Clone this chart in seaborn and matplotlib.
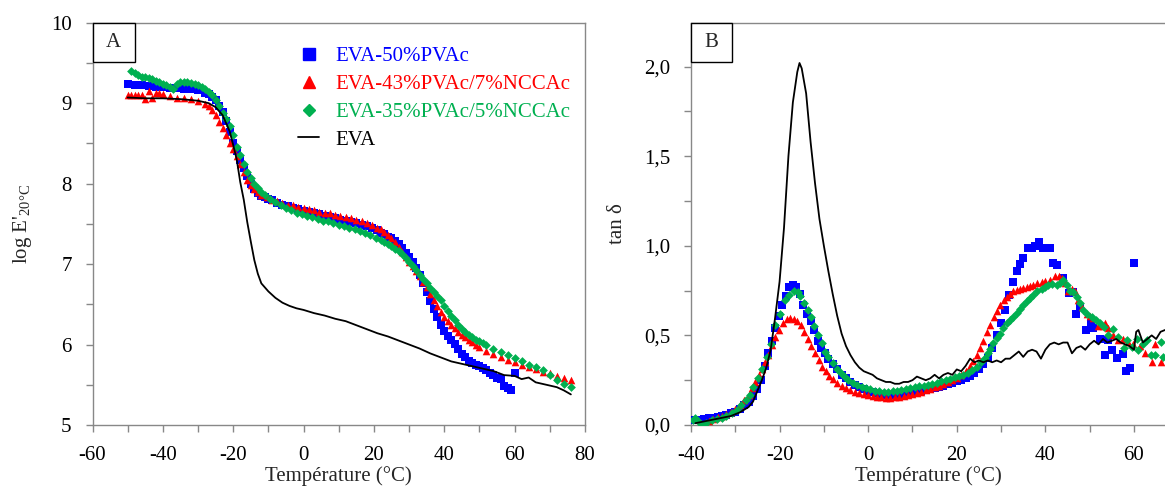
import matplotlib
matplotlib.use('Agg')
import matplotlib.pyplot as plt
import seaborn as sns
import pandas as pd
from matplotlib.lines import Line2D
from matplotlib.patches import Rectangle
from matplotlib.ticker import MultipleLocator, FuncFormatter

# ---- panel A : log E' vs temperature ----
tA_pvac = [-50, -48, -46, -44, -42, -40, -38, -36, -34, -32, -30, -28, -27, -26, -25, -24, -23, -22, -21, -20,
           -19, -18, -17, -16, -15, -14, -13, -12, -11, -10, -9, -7.5, -6, -4.5, -3, -1.5, 0, 1.5, 3, 4.5,
           6, 7.5, 9, 10.5, 12, 13.5, 15, 16.5, 18, 19.5, 21, 22, 23, 24, 25, 26, 27, 28, 29, 30,
           31, 32, 33, 34, 35, 36, 37, 38, 39, 40, 41, 42, 43, 44, 45, 46, 47, 48, 49, 50,
           51, 52, 53, 54, 55, 56, 57, 58, 59, 60]
eA_pvac = [9.24, 9.23, 9.22, 9.21, 9.20, 9.20, 9.19, 9.19, 9.18, 9.17, 9.16, 9.13, 9.11, 9.08, 9.04, 8.97, 8.89, 8.78, 8.64, 8.51,
           8.40, 8.29, 8.19, 8.09, 8.00, 7.93, 7.88, 7.85, 7.83, 7.81, 7.79, 7.76, 7.74, 7.72, 7.70, 7.68, 7.66, 7.65, 7.63, 7.62,
           7.60, 7.58, 7.57, 7.55, 7.54, 7.52, 7.51, 7.49, 7.47, 7.45, 7.42, 7.39, 7.37, 7.34, 7.32, 7.29, 7.25, 7.20, 7.14, 7.09,
           7.03, 6.95, 6.86, 6.76, 6.65, 6.54, 6.44, 6.34, 6.24, 6.17, 6.10, 6.05, 6.01, 5.94, 5.88, 5.84, 5.80, 5.77, 5.75, 5.73,
           5.71, 5.68, 5.65, 5.62, 5.59, 5.57, 5.48, 5.46, 5.44, 5.64]

tA_ncc7 = [-50, -49, -48, -47, -46, -45, -44, -43, -42, -41, -40, -38, -36, -34, -32, -30, -28, -27, -26, -25,
           -24, -23, -22, -21, -20, -19, -18, -17, -16, -15, -14, -13, -12, -10.5, -9, -7.5, -6, -4.5, -3, -1.5,
           0, 1.5, 3, 4.5, 6, 7.5, 9, 10.5, 12, 13.5, 15, 16.5, 18, 19.5, 21, 22, 23, 24, 25, 26,
           27, 28, 29, 30, 31, 32, 33, 34, 35, 36, 37, 38, 39, 40, 41, 42, 43, 44, 45, 46,
           47, 48, 49, 50, 52, 54, 56, 58, 60, 62, 64, 66, 68, 70, 72, 74, 76]
eA_ncc7 = [9.10, 9.10, 9.10, 9.10, 9.10, 9.05, 9.15, 9.07, 9.12, 9.13, 9.11, 9.09, 9.07, 9.06, 9.05, 9.03, 8.99, 8.96, 8.92, 8.85,
           8.77, 8.69, 8.60, 8.51, 8.43, 8.34, 8.24, 8.14, 8.05, 7.98, 7.93, 7.89, 7.86, 7.83, 7.80, 7.78, 7.76, 7.74, 7.73, 7.71,
           7.70, 7.68, 7.67, 7.65, 7.64, 7.63, 7.61, 7.60, 7.58, 7.57, 7.55, 7.53, 7.51, 7.48, 7.45, 7.43, 7.40, 7.36, 7.32, 7.27,
           7.21, 7.15, 7.09, 7.03, 6.97, 6.91, 6.85, 6.78, 6.71, 6.63, 6.55, 6.48, 6.41, 6.34, 6.29, 6.24, 6.20, 6.16, 6.12, 6.09,
           6.06, 6.03, 6.00, 5.97, 5.92, 5.88, 5.85, 5.81, 5.78, 5.75, 5.72, 5.69, 5.66, 5.64, 5.61, 5.59, 5.56]

tA_ncc5 = [-49, -48, -47, -46, -45, -44, -43, -42, -41, -40, -39, -38, -37, -36, -35, -34, -33, -32, -31, -30,
           -29, -28, -27, -26, -25, -24, -23, -22, -21, -20, -19, -18, -17, -16, -15, -14, -13, -12, -11, -9.5,
           -8, -6.5, -5, -3.5, -2, -0.5, 1, 2.5, 4, 5.5, 7, 8.5, 10, 11.5, 13, 14.5, 16, 17.5, 19, 20.5,
           22, 23, 24, 25, 26, 27, 28, 29, 30, 31, 32, 33, 34, 35, 36, 37, 38, 39, 40, 41,
           42, 43, 44, 45, 46, 47, 48, 49, 50, 51, 52, 54, 56, 58, 60, 62, 64, 66, 68, 70,
           72, 74, 76]
eA_ncc5 = [9.40, 9.37, 9.35, 9.33, 9.32, 9.31, 9.30, 9.28, 9.26, 9.24, 9.22, 9.20, 9.18, 9.24, 9.26, 9.26, 9.26, 9.25, 9.24, 9.23,
           9.20, 9.17, 9.14, 9.10, 9.04, 8.97, 8.88, 8.80, 8.71, 8.60, 8.46, 8.35, 8.24, 8.15, 8.07, 8.00, 7.94, 7.90, 7.86, 7.81,
           7.77, 7.73, 7.70, 7.67, 7.64, 7.62, 7.60, 7.58, 7.56, 7.54, 7.53, 7.51, 7.49, 7.47, 7.45, 7.43, 7.41, 7.39, 7.36, 7.33,
           7.30, 7.27, 7.25, 7.22, 7.19, 7.16, 7.12, 7.07, 7.02, 6.97, 6.92, 6.87, 6.81, 6.76, 6.70, 6.65, 6.60, 6.55, 6.48, 6.42,
           6.36, 6.30, 6.24, 6.19, 6.15, 6.12, 6.09, 6.06, 6.04, 6.02, 6.00, 5.95, 5.91, 5.87, 5.83, 5.79, 5.75, 5.72, 5.68, 5.62,
           5.56, 5.51, 5.47]

tA_eva = [-50, -45, -40, -35, -30, -27, -25, -23, -21, -20, -19, -18, -17, -16, -15, -14, -13, -12, -10, -8,
          -6, -4, -2, 0, 3, 6, 9, 12, 15, 18, 21, 24, 27, 30, 33, 36, 39, 42, 45, 48,
          51, 54, 57, 60, 62, 64, 66, 68, 70, 72, 74, 76]
eA_eva = [9.07, 9.06, 9.06, 9.05, 9.03, 9.00, 8.95, 8.85, 8.65, 8.48, 8.30, 8.02, 7.80, 7.52, 7.28, 7.05, 6.88, 6.76, 6.66, 6.58,
          6.52, 6.48, 6.45, 6.43, 6.39, 6.36, 6.32, 6.29, 6.24, 6.19, 6.14, 6.10, 6.05, 6.00, 5.95, 5.89, 5.84, 5.79, 5.76, 5.73,
          5.70, 5.67, 5.62, 5.61, 5.57, 5.59, 5.53, 5.51, 5.49, 5.47, 5.43, 5.38]

# ---- panel B : tan delta vs temperature ----
tB_pvac = [-40, -39, -38, -37, -36, -35, -34, -33, -32, -31, -30, -29, -28, -27, -26, -25, -24.2, -23.4, -22.6, -21.8,
           -21, -20.2, -19.4, -18.6, -17.8, -17, -16.2, -15.4, -14.6, -13.8, -13, -12.2, -11.4, -10.6, -9.8, -9, -8, -7, -6, -5,
           -4, -3, -2, -1, 0, 1, 2, 3, 4, 5, 6, 7, 8, 9, 10, 11, 12, 13, 14, 15,
           16, 17, 18, 19, 20, 21, 22, 23, 24, 25, 26, 27, 28, 29, 30, 30.9, 31.8, 32.6, 33.5, 34.3,
           35, 36, 36.9, 37.7, 38.6, 39.4, 40.3, 41, 41.8, 42.6, 44, 45.3, 46.2, 47, 47.8, 49.1, 50.3, 50.8, 52.4, 53.5,
           54.2, 55, 56.2, 57.5, 58.1, 59.2, 60]
dB_pvac = [0.03, 0.03, 0.03, 0.035, 0.04, 0.04, 0.045, 0.05, 0.055, 0.065, 0.075, 0.09, 0.11, 0.13, 0.16, 0.20, 0.25, 0.33, 0.40, 0.47,
           0.54, 0.61, 0.67, 0.72, 0.77, 0.78, 0.77, 0.73, 0.67, 0.62, 0.58, 0.53, 0.47, 0.43, 0.40, 0.37, 0.34, 0.31, 0.28, 0.26,
           0.24, 0.225, 0.21, 0.20, 0.19, 0.185, 0.178, 0.172, 0.168, 0.166, 0.166, 0.168, 0.17, 0.173, 0.177, 0.182, 0.188, 0.195, 0.20, 0.207,
           0.213, 0.22, 0.228, 0.235, 0.243, 0.252, 0.262, 0.273, 0.29, 0.31, 0.34, 0.375, 0.43, 0.50, 0.57, 0.64, 0.725, 0.80, 0.86, 0.90,
           0.93, 0.99, 0.985, 1.0, 1.02, 0.985, 0.99, 0.985, 0.905, 0.89, 0.82, 0.735, 0.74, 0.62, 0.66, 0.53, 0.57, 0.54, 0.48, 0.39,
           0.475, 0.42, 0.376, 0.396, 0.30, 0.32, 0.905]

tB_ncc7 = [-36.5, -36, -35, -34, -33, -32, -31, -30, -29, -28, -27, -26.3, -25.5, -24.7, -24, -23.3, -22.6, -21.8, -21, -20.1,
           -19.2, -18.4, -17.6, -16.8, -16, -15.2, -14.4, -13.6, -12.8, -12, -11.2, -10.4, -9.6, -8.8, -8, -7, -6, -5, -4, -3,
           -2, -1, 0, 1, 2, 3, 4, 5, 6, 7, 8, 9, 10, 11, 12, 13, 14, 15, 16, 17,
           18, 19, 20, 21, 22, 23, 23.7, 24.5, 25.2, 26, 26.8, 27.5, 28.3, 29, 29.8, 30.6, 31.3, 32, 32.8, 33.5,
           34.3, 35, 35.8, 36.5, 37.3, 38.2, 39.2, 40, 41, 42.2, 43, 43.7, 44.5, 45.2, 46, 46.7, 47.4, 48.3, 49.3, 50.1,
           50.8, 51.9, 53, 53.5, 54.2, 55.3, 56.4, 57.6, 58.7, 59.8, 61.4, 62.5, 64, 64.7, 66.2]
dB_ncc7 = [0.0, 0.02, 0.035, 0.045, 0.05, 0.06, 0.07, 0.09, 0.11, 0.14, 0.17, 0.205, 0.24, 0.28, 0.31, 0.35, 0.39, 0.445, 0.49, 0.53,
           0.57, 0.59, 0.595, 0.59, 0.58, 0.56, 0.52, 0.48, 0.44, 0.40, 0.36, 0.325, 0.30, 0.275, 0.255, 0.235, 0.22, 0.205, 0.195, 0.185,
           0.178, 0.172, 0.167, 0.162, 0.158, 0.155, 0.152, 0.152, 0.154, 0.157, 0.161, 0.166, 0.172, 0.179, 0.186, 0.194, 0.202, 0.21, 0.22, 0.23,
           0.24, 0.25, 0.26, 0.28, 0.30, 0.33, 0.355, 0.39, 0.43, 0.47, 0.52, 0.56, 0.60, 0.635, 0.67, 0.70, 0.716, 0.73, 0.745, 0.755,
           0.76, 0.765, 0.77, 0.775, 0.78, 0.79, 0.80, 0.805, 0.81, 0.83, 0.83, 0.82, 0.79, 0.75, 0.76, 0.75, 0.70, 0.66, 0.62, 0.61,
           0.595, 0.55, 0.55, 0.57, 0.54, 0.50, 0.475, 0.48, 0.465, 0.45, 0.44, 0.40, 0.35, 0.45, 0.35]

tB_ncc5 = [-39.5, -39, -38.3, -37.6, -36.5, -35.3, -34.2, -33.1, -32, -30.8, -29.7, -28.6, -27.5, -26.6, -25.9, -24.8, -23.9, -22.9, -21.9, -21,
           -20, -18.8, -17.8, -16.8, -15.9, -15.4, -14.4, -13.5, -12.8, -12.2, -11.4, -10.5, -9.7, -9, -8, -7.1, -6.2, -5.3, -4.5, -3.5,
           -2.5, -1.5, -0.5, 0.5, 1.5, 2.5, 3.5, 4.5, 5.5, 6.5, 7.5, 8.5, 9.5, 10.5, 11.5, 12.5, 13.5, 14.5, 15.5, 16.5,
           17.5, 18.5, 19.5, 20.5, 21.5, 22.5, 23.5, 24.5, 25.5, 26.3, 27, 27.6, 28.2, 29, 29.8, 30.5, 31.3, 32, 32.8, 33.5,
           34.3, 35, 35.8, 36.5, 37.3, 38.2, 39.2, 40, 40.7, 41.6, 42.6, 43.3, 44, 44.8, 45.6, 46.3, 47.1, 47.8, 48.6, 49.5,
           50.5, 51.4, 52.3, 53.2, 54.2, 55.3, 56.5, 57.7, 58.4, 59.6, 60.6, 61, 62, 63, 63.8, 64.7, 66.2, 66.6]
dB_ncc5 = [0.03, 0.037, 0.02, 0.0, 0.01, 0.028, 0.033, 0.037, 0.05, 0.065, 0.085, 0.11, 0.14, 0.17, 0.21, 0.26, 0.31, 0.38, 0.45, 0.56,
           0.62, 0.70, 0.725, 0.75, 0.74, 0.72, 0.68, 0.64, 0.60, 0.55, 0.50, 0.455, 0.41, 0.38, 0.345, 0.315, 0.29, 0.27, 0.25, 0.235,
           0.222, 0.214, 0.205, 0.198, 0.192, 0.187, 0.186, 0.186, 0.188, 0.192, 0.196, 0.20, 0.205, 0.21, 0.215, 0.22, 0.225, 0.23, 0.237, 0.243,
           0.25, 0.257, 0.265, 0.272, 0.28, 0.29, 0.305, 0.325, 0.35, 0.375, 0.40, 0.425, 0.455, 0.485, 0.51, 0.54, 0.567, 0.585, 0.604, 0.625,
           0.65, 0.67, 0.69, 0.71, 0.725, 0.745, 0.76, 0.77, 0.78, 0.785, 0.78, 0.79, 0.81, 0.78, 0.75, 0.74, 0.716, 0.68, 0.64, 0.62,
           0.60, 0.585, 0.567, 0.545, 0.50, 0.535, 0.49, 0.43, 0.475, 0.437, 0.48, 0.42, 0.45, 0.474, 0.39, 0.39, 0.465, 0.38]

tB_eva = [-39, -37, -35, -33, -31, -29, -27, -26, -25, -24, -23, -22, -21, -20, -19, -18, -17, -16, -15.5, -15,
          -14, -13, -12, -11, -10, -9, -8, -7, -6, -5, -4, -3, -2, -1, 0, 1, 2, 3, 4, 5,
          6, 7, 8, 9, 10, 11, 12, 13, 14, 15, 16, 17, 18, 19, 20, 21, 22, 23, 24, 25,
          26, 27, 28, 29, 30, 31, 32, 33, 34, 35, 36, 37, 38, 39, 40, 41, 42, 43, 44, 45,
          46, 47, 48, 49, 50, 51, 52, 53, 54, 55, 56, 57, 58, 59, 60, 60.5, 61, 62, 63, 64,
          65, 66, 67]
dB_eva = [0.01, 0.02, 0.03, 0.04, 0.05, 0.07, 0.10, 0.13, 0.19, 0.25, 0.32, 0.42, 0.60, 0.80, 1.10, 1.50, 1.80, 1.97, 2.02, 1.99,
          1.85, 1.58, 1.35, 1.15, 1.00, 0.86, 0.73, 0.61, 0.51, 0.44, 0.39, 0.35, 0.32, 0.30, 0.29, 0.28, 0.26, 0.25, 0.24, 0.24,
          0.23, 0.23, 0.24, 0.24, 0.25, 0.27, 0.26, 0.25, 0.26, 0.28, 0.26, 0.28, 0.29, 0.28, 0.31, 0.30, 0.33, 0.37, 0.35, 0.36,
          0.35, 0.36, 0.35, 0.36, 0.35, 0.37, 0.37, 0.39, 0.41, 0.38, 0.41, 0.42, 0.41, 0.37, 0.42, 0.45, 0.46, 0.45, 0.46, 0.46,
          0.40, 0.43, 0.44, 0.42, 0.45, 0.47, 0.45, 0.48, 0.46, 0.47, 0.48, 0.46, 0.45, 0.44, 0.42, 0.52, 0.53, 0.46, 0.48, 0.50,
          0.48, 0.52, 0.53]

labels = ['EVA-50%PVAc', 'EVA-43%PVAc/7%NCCAc', 'EVA-35%PVAc/5%NCCAc', 'EVA']
colors = ['#0000FF', '#FF0000', '#00B050', '#000000']
markers = ['s', '^', 'D']
sizes = [26, 30, 20]

sns.set_theme(style='ticks')
plt.rcParams['font.family'] = ['Liberation Serif', 'DejaVu Serif']
plt.rcParams['mathtext.fontset'] = 'custom'
plt.rcParams['mathtext.rm'] = 'Liberation Serif'
plt.rcParams['mathtext.it'] = 'Liberation Serif:italic'
plt.rcParams['font.size'] = 15
plt.rcParams['axes.unicode_minus'] = False

spine_col = '#888888'

fig = plt.figure(figsize=(11.65, 4.9), dpi=100)
axA = fig.add_axes([0.0794, 0.1327, 0.4227, 0.821])
axB = fig.add_axes([0.5931, 0.1327, 0.4069, 0.821])

panelA = [(tA_pvac, eA_pvac), (tA_ncc7, eA_ncc7), (tA_ncc5, eA_ncc5)]
panelB = [(tB_pvac, dB_pvac), (tB_ncc7, dB_ncc7), (tB_ncc5, dB_ncc5)]

for ax, series, eva in [(axA, panelA, (tA_eva, eA_eva)), (axB, panelB, (tB_eva, dB_eva))]:
    for (t, v), c, m, s in zip(series, colors, markers, sizes):
        df = pd.DataFrame({'T': t, 'v': v})
        sns.scatterplot(data=df, x='T', y='v', ax=ax, color=c, marker=m, s=s,
                        linewidth=0, legend=False, zorder=3)
    df = pd.DataFrame({'T': eva[0], 'v': eva[1]})
    sns.lineplot(data=df, x='T', y='v', ax=ax, color='black', linewidth=1.3,
                 sort=False, legend=False, zorder=4)

# axes A
axA.set_xlim(-60, 80)
axA.set_ylim(5, 10)
axA.xaxis.set_major_locator(MultipleLocator(20))
axA.xaxis.set_minor_locator(MultipleLocator(10))
axA.yaxis.set_major_locator(MultipleLocator(1))
axA.yaxis.set_minor_locator(MultipleLocator(0.5))
axA.set_xlabel('Température (°C)', fontsize=15, labelpad=1)
axA.set_ylabel(r"log E'$_{\mathrm{20°C}}$", fontsize=15, labelpad=12)

# axes B
axB.set_xlim(-40, 67)
axB.set_ylim(0, 2.245)
axB.xaxis.set_major_locator(MultipleLocator(20))
axB.xaxis.set_minor_locator(MultipleLocator(10))
axB.yaxis.set_major_locator(MultipleLocator(0.5))
axB.yaxis.set_minor_locator(MultipleLocator(0.25))
axB.yaxis.set_major_formatter(FuncFormatter(lambda v, p: f'{v:.1f}'.replace('.', ',')))
axB.set_xlabel('Température (°C)', fontsize=15, labelpad=1)
axB.set_ylabel('tan δ', fontsize=15, labelpad=12)
axB.spines['right'].set_visible(False)

for ax in (axA, axB):
    for sp in ax.spines.values():
        sp.set_color(spine_col)
        sp.set_linewidth(1.0)
    ax.tick_params(which='both', direction='out', length=5, width=1,
                   color=spine_col, labelcolor='black', labelsize=15)
    ax.tick_params(axis='x', which='major', pad=10)
    ax.tick_params(axis='y', which='major', pad=10)

# panel letters
for ax, letter, w in [(axA, 'A', 0.0854), (axB, 'B', 0.0865)]:
    ax.add_patch(Rectangle((0, 1 - 0.097), w, 0.097, transform=ax.transAxes,
                           facecolor='white', edgecolor='black', linewidth=1,
                           clip_on=False, zorder=6))
    ax.text(w / 2, 1 - 0.097 / 2, letter, transform=ax.transAxes, ha='center',
            va='center', fontsize=15, zorder=7)

handles = [Line2D([], [], linestyle='none', marker=m, color=c, markersize=ms)
           for m, c, ms in zip(markers, colors[:3], [8, 8, 6.5])]
handles.append(Line2D([], [], color='black', linewidth=1.3))
axA.legend(handles, labels, loc='upper left', bbox_to_anchor=(0.397, 0.967),
           frameon=False, borderpad=0, handlelength=1.0, handletextpad=0.75,
           labelspacing=0.4, fontsize=15, labelcolor=colors)

fig.savefig('out.png', dpi=100)
